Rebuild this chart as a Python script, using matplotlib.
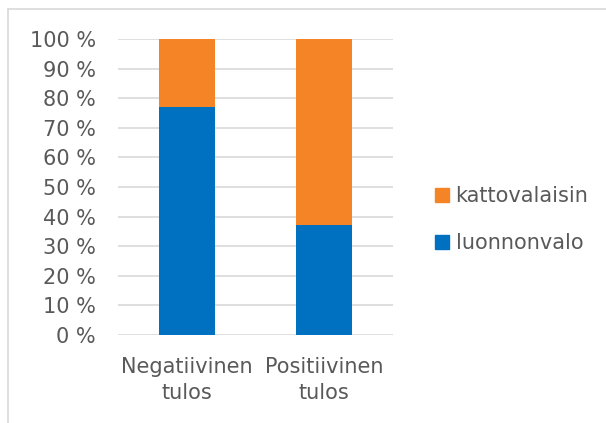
import matplotlib.pyplot as plt
from matplotlib.patches import Patch
from matplotlib.lines import Line2D
import numpy as np

# Data
categories = ["Negatiivinen\ntulos", "Positiivinen\ntulos"]
luonnonvalo = [77, 37]
kattovalaisin = [23, 63]

BLUE = "#0070C0"
ORANGE = "#F58426"
TEXT = "#595959"
GRID = "#D9D9D9"
FS = 15

plt.rcParams["font.family"] = "DejaVu Sans"

fig = plt.figure(figsize=(6.06, 4.23), dpi=100)
ax = fig.add_axes([0.1947, 0.208, 0.4538, 0.6998])

x = np.arange(len(categories))
ax.bar(x, luonnonvalo, width=0.41, color=BLUE, zorder=3)
ax.bar(x, kattovalaisin, width=0.41, bottom=luonnonvalo, color=ORANGE, zorder=3)

ax.set_xlim(-0.5, 1.5)
ax.set_ylim(0, 100)
ax.set_yticks(range(0, 101, 10))
ax.set_yticklabels([f"{v} %" for v in range(0, 101, 10)])
ax.set_xticks(x)
ax.set_xticklabels(categories, linespacing=1.35)
ax.tick_params(axis="both", length=0, colors=TEXT, labelsize=FS)
ax.tick_params(axis="y", pad=16)
ax.tick_params(axis="x", pad=16)
ax.grid(axis="y", color=GRID, linewidth=1.2, zorder=0)
for s in ax.spines.values():
    s.set_visible(False)

handles = [Patch(color=ORANGE), Patch(color=BLUE)]
fig.legend(handles, ["kattovalaisin", "luonnonvalo"], loc="center left",
           bbox_to_anchor=(0.718, 0.481), frameon=False, fontsize=FS,
           labelcolor=TEXT, handlelength=0.68, handleheight=0.68,
           handletextpad=0.3, labelspacing=1.3, borderpad=0,
           borderaxespad=0)

# chart area border (only top and left show)
fig.add_artist(Line2D([0.013, 1.0], [0.979, 0.979], color=GRID, linewidth=1.2))
fig.add_artist(Line2D([0.013, 0.013], [0.0, 0.979], color=GRID, linewidth=1.2))

fig.savefig("out.png", dpi=100)
